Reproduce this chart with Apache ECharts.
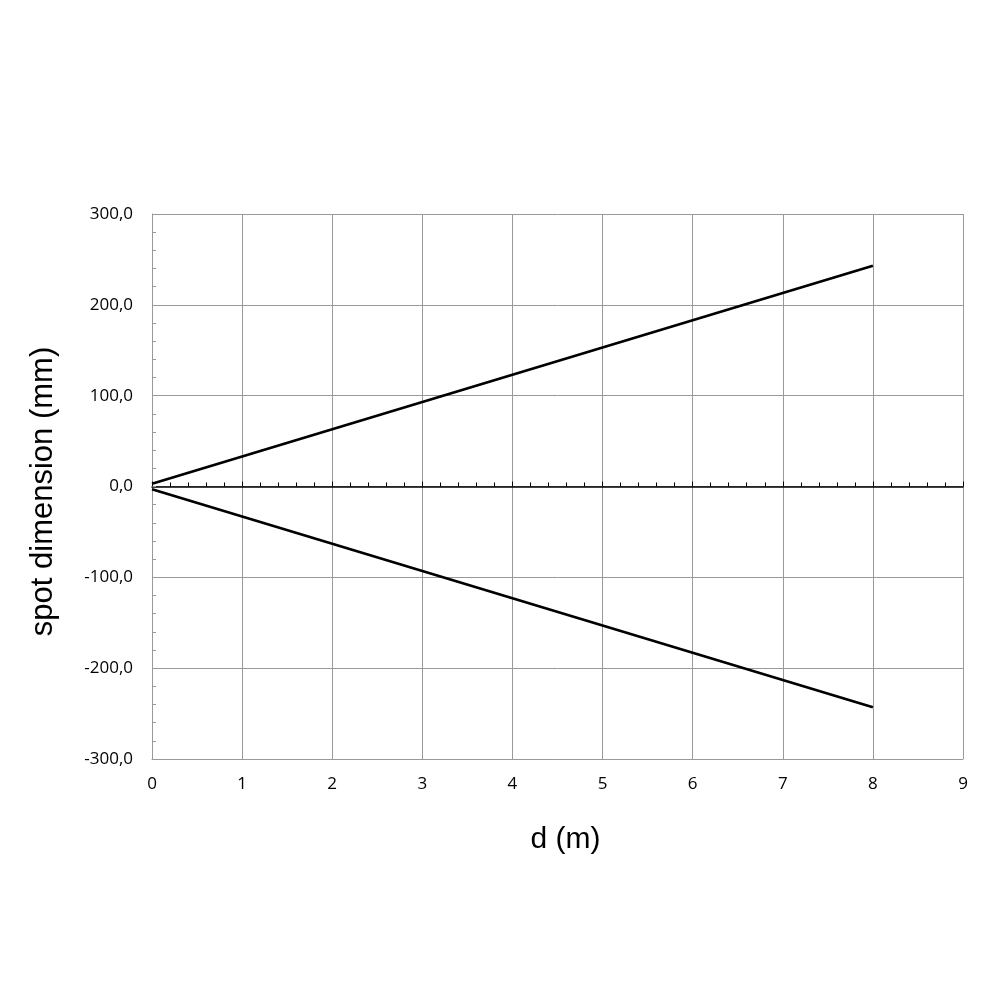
<!DOCTYPE html>
<html><head><meta charset="utf-8">
<script src="https://cdn.jsdelivr.net/npm/echarts@6/dist/echarts.min.js"></script>
<style>html,body{margin:0;padding:0;background:#fff}#c{width:1000px;height:1000px}</style>
</head><body><div id="c"></div>
<script>
const distances = [0, 1, 2, 3, 4, 5, 6, 7, 8];
const upperSpot = [3, 33, 63, 93, 123, 153, 183, 213, 243];
const lowerSpot = [-3, -33, -63, -93, -123, -153, -183, -213, -243];
const xTitle = 'd (m)';
const yTitle = 'spot dimension (mm)';

const chart = echarts.init(document.getElementById('c'));
const lbl = {fontFamily: 'Open Sans', fontSize: 17, color: '#000'};
chart.setOption({
  animation: false,
  grid: {left: 152, right: 37, top: 214, bottom: 241},
  xAxis: [{
    type: 'value', min: 0, max: 9, interval: 1, position: 'bottom',
    axisLine: {onZero: false, lineStyle: {color: '#999', width: 1}},
    axisTick: {show: false},
    axisLabel: Object.assign({margin: 17}, lbl),
    splitLine: {show: true, lineStyle: {color: '#999', width: 1}},
    name: xTitle, nameLocation: 'middle', nameGap: 66,
    nameTextStyle: {fontFamily: 'Liberation Sans', fontSize: 30, color: '#000', padding: [0, 0, 0, 16]}
  }, {
    type: 'value', min: 0, max: 9, interval: 1, position: 'bottom',
    axisLine: {onZero: true, lineStyle: {color: '#000', width: 1.5}},
    axisTick: {show: true, inside: true, length: 5, lineStyle: {color: '#000', width: 1}},
    minorTick: {show: true, splitNumber: 5, length: 4, lineStyle: {color: '#000', width: 1}},
    axisLabel: {show: false},
    splitLine: {show: false}
  }],
  yAxis: [{
    type: 'value', min: -300, max: 300, interval: 100, position: 'left',
    axisLine: {onZero: false, lineStyle: {color: '#999', width: 1}},
    axisTick: {show: true, inside: true, length: 4, lineStyle: {color: '#999', width: 1}},
    minorTick: {show: true, splitNumber: 5, length: 4, lineStyle: {color: '#999', width: 1}},
    axisLabel: Object.assign({margin: 19, formatter: v => v.toFixed(1).replace('.', ',')}, lbl),
    splitLine: {show: true, lineStyle: {color: '#999', width: 1}},
    name: yTitle, nameLocation: 'middle', nameGap: 93,
    nameTextStyle: {fontFamily: 'Liberation Sans', fontSize: 31, color: '#000', padding: [0, 10, 0, 0]}
  }],
  series: [{
    type: 'line', data: distances.map((d, i) => [d, upperSpot[i]]),
    showSymbol: false, lineStyle: {color: '#000', width: 2.8}
  }, {
    type: 'line', data: distances.map((d, i) => [d, lowerSpot[i]]),
    showSymbol: false, lineStyle: {color: '#000', width: 2.8}
  }]
});
</script></body></html>
